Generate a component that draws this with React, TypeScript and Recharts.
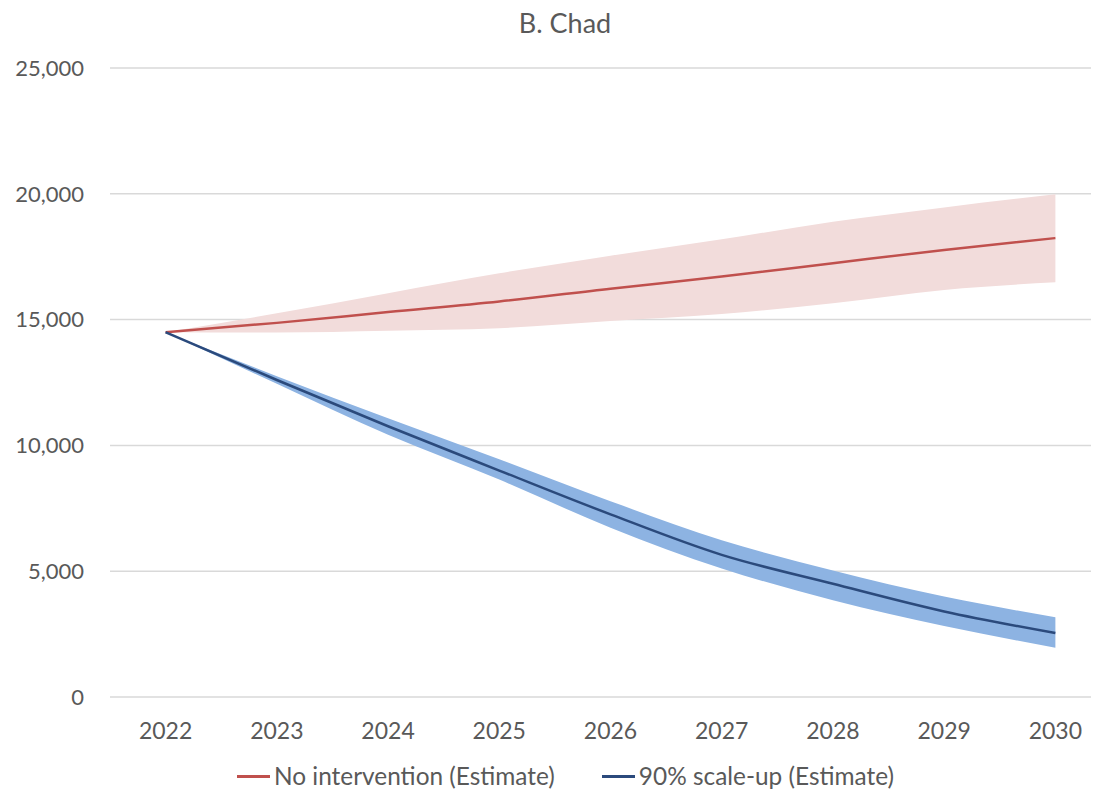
import { Area, CartesianGrid, ComposedChart, Line, XAxis, YAxis } from "recharts";

const years = [2022, 2023, 2024, 2025, 2026, 2027, 2028, 2029, 2030];
const noIntervention = [14500, 14870, 15300, 15720, 16230, 16710, 17240, 17770, 18240];
const noInterventionLow = [14500, 14490, 14560, 14660, 14940, 15220, 15650, 16180, 16480];
const noInterventionHigh = [14500, 15250, 16050, 16840, 17540, 18190, 18890, 19460, 19980];
const scaleUp = [14500, 12600, 10760, 9000, 7260, 5650, 4500, 3400, 2540];
const scaleUpLow = [14500, 12450, 10420, 8640, 6730, 5110, 3850, 2820, 1960];
const scaleUpHigh = [14500, 12750, 11080, 9450, 7780, 6230, 5030, 3990, 3170];
const yTicks = [0, 5000, 10000, 15000, 20000, 25000];

const colors = {
  red: "#c0504d",
  redBand: "#f2dcdb",
  blue: "#2b4a7c",
  blueBand: "#8db3e2",
  grid: "#d9d9d9",
  text: "#595959"
};

const font = "Lato, 'Open Sans', sans-serif";

const data = years.map((year, i) => ({
  year,
  noIntervention: noIntervention[i],
  noInterventionRange: [noInterventionLow[i], noInterventionHigh[i]],
  scaleUp: scaleUp[i],
  scaleUpRange: [scaleUpLow[i], scaleUpHigh[i]]
}));

const legendItems = [
  { label: "No intervention (Estimate)", color: colors.red },
  { label: "90% scale-up (Estimate)", color: colors.blue }
];

export default function App() {
  return (
    <div
      style={{
        position: "relative",
        width: 1091,
        height: 786,
        fontFamily: font,
        color: colors.text
      }}
    >
      {/* chart is wider than the page so the last band runs past the right edge, as in the source */}
      <div style={{ position: "absolute", left: 0, top: 0, width: 1091, height: 786, overflow: "hidden" }}>
        <ComposedChart
          width={1103}
          height={786}
          data={data}
          margin={{ top: 60, right: 0, bottom: 0, left: 0 }}
        >
          <CartesianGrid vertical={false} stroke={colors.grid} strokeWidth={1.5} />
          <XAxis
            dataKey="year"
            type="number"
            domain={[2021.5, 2030.5]}
            ticks={years}
            axisLine={false}
            tickLine={false}
            tickMargin={20}
            height={97}
            tick={{ fontSize: 23, fill: colors.text, fontFamily: font }}
          />
          <YAxis
            domain={[0, 25000]}
            ticks={yTicks}
            width={102}
            axisLine={false}
            tickLine={false}
            tickMargin={20}
            tickFormatter={(v: number) => v.toLocaleString("en-US")}
            tick={{ fontSize: 22, fill: colors.text, fontFamily: font }}
          />
          <Area
            type="monotone"
            dataKey="noInterventionRange"
            stroke="none"
            fill={colors.redBand}
            fillOpacity={1}
            isAnimationActive={false}
          />
          <Area
            type="monotone"
            dataKey="scaleUpRange"
            stroke="none"
            fill={colors.blueBand}
            fillOpacity={1}
            isAnimationActive={false}
          />
          <Line
            type="monotone"
            dataKey="noIntervention"
            stroke={colors.red}
            strokeWidth={2.5}
            dot={false}
            isAnimationActive={false}
          />
          <Line
            type="monotone"
            dataKey="scaleUp"
            stroke={colors.blue}
            strokeWidth={2.5}
            dot={false}
            isAnimationActive={false}
          />
        </ComposedChart>
      </div>
      <div
        style={{
          position: "absolute",
          left: 457,
          width: 200,
          top: 0,
          textAlign: "center",
          fontSize: 27,
          lineHeight: "30px"
        }}
      >
        B. Chad
      </div>
      <div
        style={{
          position: "absolute",
          top: 753,
          left: 0,
          width: 1091,
          display: "flex",
          justifyContent: "flex-start",
          gap: 47,
          paddingLeft: 229,
          boxSizing: "border-box",
          fontSize: 24.4,
          lineHeight: "30px"
        }}
      >
        {legendItems.map((item) => (
          <div key={item.label} style={{ display: "flex", alignItems: "center" }}>
            <span
              style={{
                display: "inline-block",
                width: 33,
                height: 3,
                background: item.color,
                marginRight: 4
              }}
            />
            {item.label}
          </div>
        ))}
      </div>
    </div>
  );
}
